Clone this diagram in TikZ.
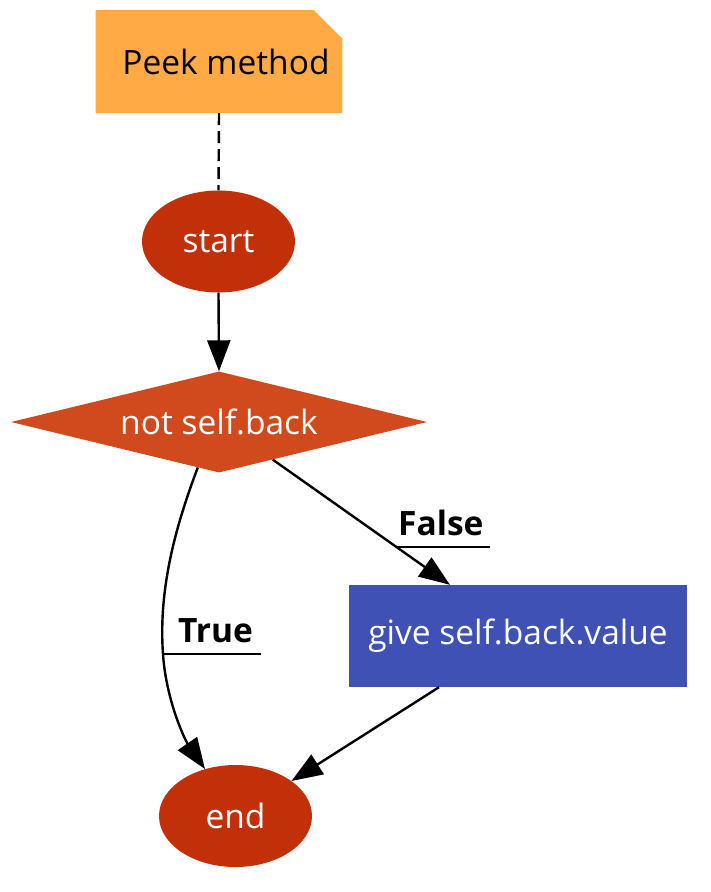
\documentclass[tikz,border=0pt]{standalone}
\usepackage{fontspec}
\setmainfont{Open Sans}
\usetikzlibrary{shapes.geometric,shapes.misc,arrows.meta}
\definecolor{notecol}{HTML}{FFAA44}
\definecolor{termcol}{HTML}{C2300A}
\definecolor{condcol}{HTML}{D04A1E}
\definecolor{opcol}{HTML}{3F51B5}
\begin{document}
\begin{tikzpicture}[x=1pt,y=-1pt]
\tikzset{noeud/.style={font=\fontsize{33.5}{36}\selectfont, text=white, inner sep=0pt},
  terminal/.style={noeud, ellipse, fill=termcol, minimum width=153pt, minimum height=102pt},
  lien/.style={line width=2.4pt, -{Triangle[length=31pt,width=23pt]}},
  etiq/.style={font=\fontsize{33.5}{36}\selectfont\bfseries, inner sep=4pt}}
\useasboundingbox (0,0) rectangle (711,892);
\node[chamfered rectangle, chamfered rectangle corners=north east, chamfered rectangle xsep=16pt, chamfered rectangle ysep=16pt, fill=notecol, inner sep=0pt, minimum width=246pt, minimum height=103pt, font=\fontsize{33.5}{36}\selectfont] (P) at (219,61.5) {\hspace*{14pt}Peek method};
\node[terminal] (S) at (218.5,241.5) {start};
\node[noeud, diamond, aspect=4.12, fill=condcol, minimum width=416pt, minimum height=101pt] (C) at (219,422) {not self.back};
\node[noeud, rectangle, fill=opcol, minimum width=338pt, minimum height=102pt] (G) at (518,636) {give self.back.value};
\node[terminal] (E) at (235.5,816) {end};
\node[etiq, anchor=base west] (LF) at (394,535) {False};
\node[etiq, anchor=base west] (LT) at (174,642) {True};
\draw[line width=2.4pt, dash pattern=on 12pt off 6pt] (P.south) -- (S.north);
\draw[lien] (S.south) -- (C.north);
\draw[lien] (C.-35.6) -- coordinate[pos=0.696] (F) (G.north -| 450,0);
\draw[lien] (C.245) .. controls (178,520) and (158,585) .. (163,654) coordinate (T) .. controls (166,700) and (185,740) .. (E.123);
\draw[lien] (G.south -| 439,0) -- (E.32.6);
\draw[line width=2.4pt] (F) -- ([xshift=2pt]F -| LF.east);
\draw[line width=2.4pt] (T) -- ([xshift=4pt]T -| LT.east);
\end{tikzpicture}
\end{document}
